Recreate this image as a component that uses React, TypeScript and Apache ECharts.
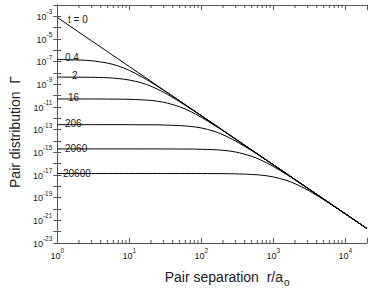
import React, { useEffect, useRef } from 'react';
import * as echarts from 'echarts';

// Pair separation r/a0 sample points
const rValues = [1, 2, 3, 5, 7, 10, 15, 20, 30, 50, 70, 100, 150, 200, 300, 500, 700, 1000, 1500, 2000, 3000, 5000, 7000, 10000, 15000, 20000];

// log10 of pair distribution Γ
const logGammaT0 = [-3.10, -4.40, -5.17, -6.13, -6.76, -7.43, -8.19, -8.73, -9.50, -10.46, -11.09, -11.76, -12.52, -13.06, -13.83, -14.79, -15.42, -16.09, -16.85, -17.39, -18.16, -19.12, -19.75, -20.42, -21.18, -21.72];
const logGammaT04 = [-6.81, -6.85, -6.92, -7.13, -7.38, -7.77, -8.35, -8.82, -9.53, -10.47, -11.10, -11.77, -12.53, -13.07, -13.84, -14.80, -15.43, -16.10, -16.86, -17.40, -18.17, -19.13, -19.76, -20.43, -21.19, -21.73];
const logGammaT2 = [-8.36, -8.37, -8.38, -8.42, -8.49, -8.62, -8.88, -9.17, -9.70, -10.53, -11.13, -11.78, -12.53, -13.07, -13.84, -14.80, -15.43, -16.10, -16.86, -17.40, -18.17, -19.13, -19.76, -20.43, -21.19, -21.73];
const logGammaT16 = [-10.29, -10.29, -10.29, -10.30, -10.31, -10.32, -10.37, -10.42, -10.58, -10.98, -11.38, -11.91, -12.59, -13.10, -13.84, -14.80, -15.43, -16.10, -16.86, -17.40, -18.17, -19.13, -19.76, -20.43, -21.19, -21.73];
const logGammaT206 = [-12.56, -12.56, -12.56, -12.56, -12.56, -12.56, -12.57, -12.57, -12.59, -12.64, -12.71, -12.85, -13.14, -13.45, -14.01, -14.85, -15.45, -16.11, -16.86, -17.40, -18.17, -19.13, -19.76, -20.43, -21.19, -21.73];
const logGammaT2060 = [-14.70, -14.70, -14.70, -14.70, -14.70, -14.70, -14.70, -14.70, -14.70, -14.71, -14.71, -14.73, -14.77, -14.82, -14.97, -15.35, -15.73, -16.25, -16.92, -17.43, -18.17, -19.12, -19.75, -20.43, -21.19, -21.73];
const logGammaT20600 = [-16.87, -16.87, -16.87, -16.87, -16.87, -16.87, -16.87, -16.87, -16.87, -16.87, -16.87, -16.87, -16.88, -16.88, -16.90, -16.95, -17.02, -17.17, -17.46, -17.77, -18.33, -19.18, -19.78, -20.43, -21.19, -21.73];

const curveNames = ['t = 0', '0.4', '2', '16', '206', '2060', '20600'];
const curveData = [logGammaT0, logGammaT04, logGammaT2, logGammaT16, logGammaT206, logGammaT2060, logGammaT20600];

// axis structure
const xMinLog = 0;
const xMaxR = 20000;
const yMinLog = -23;
const yMaxLog = -2;
const xMinorTickR = [2, 3, 4, 5, 6, 7, 8, 9, 20, 30, 40, 50, 60, 70, 80, 90, 200, 300, 400, 500, 600, 700, 800, 900, 2000, 3000, 4000, 5000, 6000, 7000, 8000, 9000];

const FONT = 'Liberation Sans, Arial, sans-serif';
const AXIS_COLOR = '#555';
const TEXT_COLOR = '#222';

export default function App() {
  const ref = useRef<HTMLDivElement>(null);

  useEffect(() => {
    if (!ref.current) return;
    const chart = echarts.init(ref.current, null, { renderer: 'svg' });
    const xMaxLog = Math.log10(xMaxR);
    const rLog = rValues.map((r) => Math.log10(r));

    const supRich = {
      b: { fontSize: 9, fontFamily: FONT, color: TEXT_COLOR, verticalAlign: 'bottom', lineHeight: 10 },
      s: { fontSize: 6.5, fontFamily: FONT, color: TEXT_COLOR, verticalAlign: 'bottom', lineHeight: 7, padding: [0, 0, 6, 0] },
    };

    const isInt = (v: number) => Math.abs(v - Math.round(v)) < 1e-6;

    const baseX = {
      type: 'value',
      min: xMinLog,
      max: xMaxLog,
      interval: 1,
      splitLine: { show: false },
      axisLine: { show: true, lineStyle: { color: AXIS_COLOR, width: 1 } },
      axisTick: { show: true, inside: true, length: 5, lineStyle: { color: AXIS_COLOR } },
    };
    const baseY = {
      type: 'value',
      min: yMinLog,
      max: yMaxLog,
      interval: 1,
      splitLine: { show: false },
      axisLine: { show: true, lineStyle: { color: AXIS_COLOR, width: 1 } },
      axisTick: { show: true, inside: true, length: 4, lineStyle: { color: AXIS_COLOR } },
    };

    const lineSeries = curveData.map((vals, i) => ({
      name: curveNames[i],
      type: 'line',
      xAxisIndex: 0,
      yAxisIndex: 0,
      data: vals.map((v, j) => [rLog[j], v]),
      showSymbol: false,
      symbol: 'none',
      smooth: i === 0 ? false : 0.3,
      lineStyle: { color: '#000', width: 1 },
      silent: true,
      z: 3,
    }));

    const minorTickSeries = {
      type: 'custom',
      xAxisIndex: 0,
      yAxisIndex: 0,
      silent: true,
      clip: false,
      data: xMinorTickR.map((r) => [Math.log10(r), yMinLog]),
      renderItem: (params: any, api: any) => {
        const u = api.value(0);
        const pb = api.coord([u, yMinLog]);
        const pt = api.coord([u, yMaxLog]);
        const st = { stroke: AXIS_COLOR, lineWidth: 1 };
        return {
          type: 'group',
          children: [
            { type: 'line', shape: { x1: pb[0], y1: pb[1], x2: pb[0], y2: pb[1] - 3 }, style: st },
            { type: 'line', shape: { x1: pt[0], y1: pt[1], x2: pt[0], y2: pt[1] + 3 }, style: st },
          ],
        };
      },
      z: 2,
    };

    const labelPos: [number, number][] = [
      [68, 19], [65, 57], [72, 75], [68, 97], [65, 123], [65, 148], [63, 173],
    ];

    chart.setOption({
      animation: false,
      grid: { left: 50, right: 7, top: 5, bottom: 40, containLabel: false },
      xAxis: [
        {
          ...baseX,
          position: 'bottom',
          name: '{n|Pair separation  r/a}{sub|o}',
          nameLocation: 'middle',
          nameGap: 27,
          nameTextStyle: {
            padding: [0, 0, 0, 30],
            rich: {
              n: { fontSize: 14, fontFamily: FONT, color: TEXT_COLOR, verticalAlign: 'top', lineHeight: 16 },
              sub: { fontSize: 10, fontFamily: FONT, color: TEXT_COLOR, verticalAlign: 'top', lineHeight: 10, padding: [7, 0, 0, 1] },
            },
          },
          axisLabel: {
            show: true,
            margin: 7,
            formatter: (v: number) => (isInt(v) ? `{b|10}{s|${Math.round(v)}}` : ''),
            rich: supRich,
          },
        },
        {
          ...baseX,
          position: 'top',
          axisLabel: { show: false },
        },
      ],
      yAxis: [
        {
          ...baseY,
          position: 'left',
          name: 'Pair distribution  Γ',
          nameLocation: 'middle',
          nameGap: 34,
          nameTextStyle: { fontSize: 14, fontFamily: FONT, color: TEXT_COLOR, padding: [0, 16, 0, 0] },
          axisLabel: {
            show: true,
            margin: 5,
            formatter: (v: number) => {
              const e = Math.round(v);
              return Math.abs(e) % 2 === 1 ? `{b|10}{s|${e}}` : '';
            },
            rich: supRich,
          },
        },
        {
          ...baseY,
          position: 'right',
          axisLabel: { show: false },
        },
      ],
      series: [...lineSeries, minorTickSeries],
      graphic: curveNames.map((name, i) => ({
        type: 'text',
        left: labelPos[i][0],
        top: labelPos[i][1] - 5,
        silent: true,
        style: { text: name, fontSize: 10, fontFamily: FONT, fill: TEXT_COLOR },
      })),
    });

    return () => chart.dispose();
  }, []);

  return <div ref={ref} style={{ position: 'absolute', left: 0, top: 0, width: 374, height: 292, background: '#fff' }} />;
}
